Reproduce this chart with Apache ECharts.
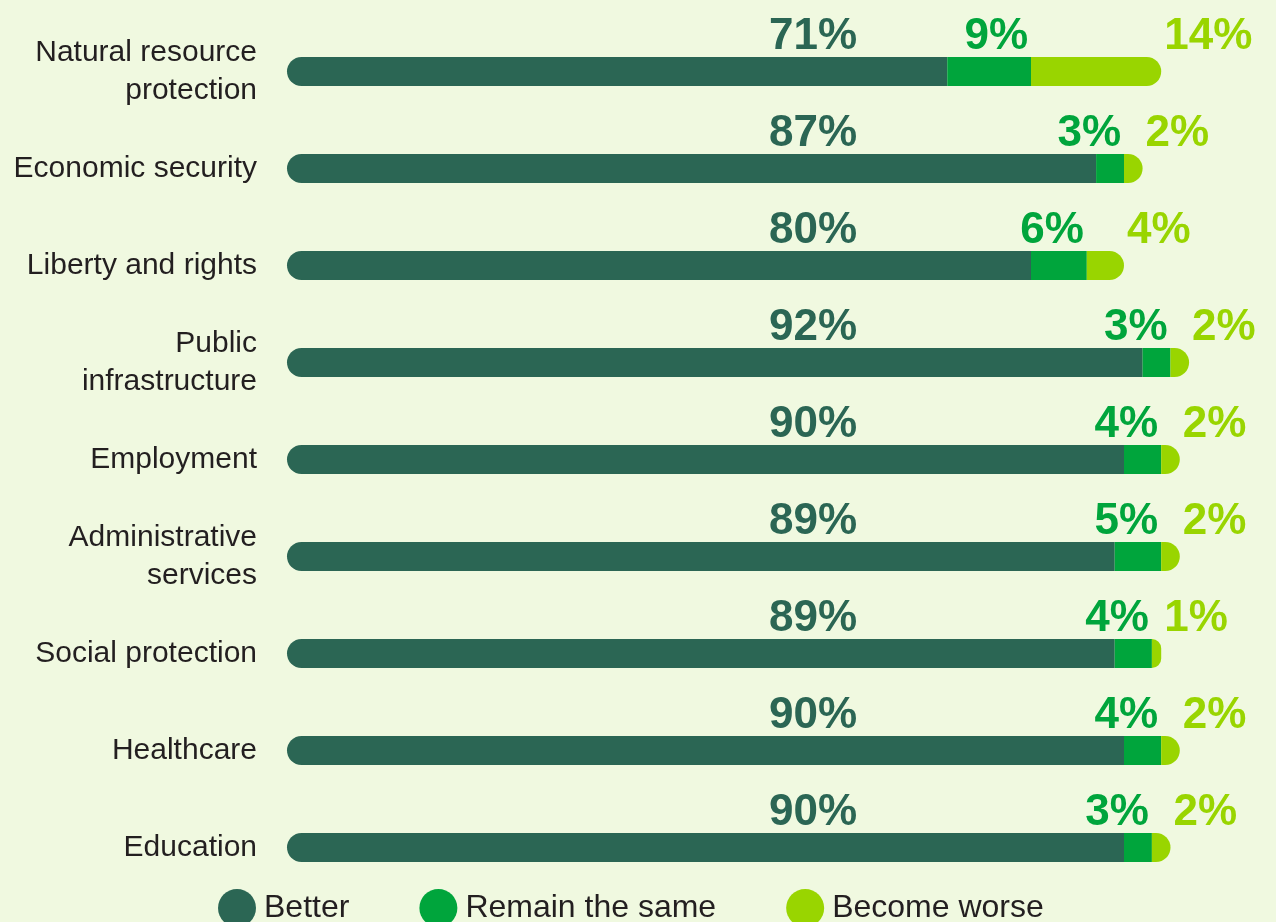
<!DOCTYPE html>
<html>
<head>
<meta charset="utf-8">
<title>Expected change by area</title>
<script src="https://cdn.jsdelivr.net/npm/echarts@6/dist/echarts.min.js"></script>
<style>
  html, body { margin: 0; padding: 0; background: #f0f9e0; }
  #chart { width: 1276px; height: 922px; }
</style>
</head>
<body>
<div id="chart"></div>
<script>
// Areas, top to bottom
const categories = [
  'Natural resource\nprotection',
  'Economic security',
  'Liberty and rights',
  'Public\ninfrastructure',
  'Employment',
  'Administrative\nservices',
  'Social protection',
  'Healthcare',
  'Education'
];
const seriesNames = ['Better', 'Remain the same', 'Become worse'];
// Share of respondents (%)
const better = [71, 87, 80, 92, 90, 89, 89, 90, 90];
const same   = [9, 3, 6, 3, 4, 5, 4, 4, 3];
const worse  = [14, 2, 4, 2, 2, 2, 1, 2, 2];

const C_BETTER = '#2b6654';
const C_SAME = '#00a53c';
const C_WORSE = '#99d500';
const TEXT = '#231f20';
const R = 14.5;

const chart = echarts.init(document.getElementById('chart'), null, { renderer: 'canvas' });

const valueLabel = (color, extra) => Object.assign({
  show: true,
  formatter: '{c}%',
  color: color,
  fontFamily: 'Liberation Sans, Arial, sans-serif',
  fontWeight: 'bold',
  fontSize: 44,
  verticalAlign: 'middle'
}, extra);

chart.setOption({
  backgroundColor: '#f0f9e0',
  animation: false,
  grid: { left: 287, right: 59, top: 23, bottom: 26, containLabel: false },
  xAxis: {
    type: 'value', min: 0, max: 100, show: false
  },
  yAxis: {
    type: 'category',
    inverse: true,
    data: categories,
    axisLine: { show: false },
    axisTick: { show: false },
    splitLine: { show: false },
    axisLabel: {
      margin: 30,
      color: TEXT,
      fontFamily: 'Liberation Sans, Arial, sans-serif',
      fontSize: 30,
      lineHeight: 38
    }
  },
  legend: {
    left: 218,
    top: 889,
    padding: 0,
    icon: 'circle',
    itemWidth: 38,
    itemHeight: 38,
    itemGap: 70,
    data: seriesNames,
    textStyle: {
      color: TEXT,
      fontFamily: 'Liberation Sans, Arial, sans-serif',
      fontSize: 32,
      padding: [0, 0, 0, 3]
    }
  },
  series: [
    {
      name: seriesNames[0], type: 'bar', stack: 'total', barWidth: 29,
      data: better,
      itemStyle: { color: C_BETTER, borderRadius: [R, 0, 0, R] },
      label: valueLabel(C_BETTER, { position: [570, -20], align: 'right' })
    },
    {
      name: seriesNames[1], type: 'bar', stack: 'total', barWidth: 29,
      data: same,
      itemStyle: { color: C_SAME },
      label: valueLabel(C_SAME, { position: ['100%', -20], align: 'right', offset: [-3, 0] })
    },
    {
      name: seriesNames[2], type: 'bar', stack: 'total', barWidth: 29,
      data: worse,
      itemStyle: { color: C_WORSE, borderRadius: [0, R, R, 0] },
      label: valueLabel(C_WORSE, { position: ['100%', -20], align: 'left', offset: [3, 0] })
    }
  ]
});
</script>
</body>
</html>
